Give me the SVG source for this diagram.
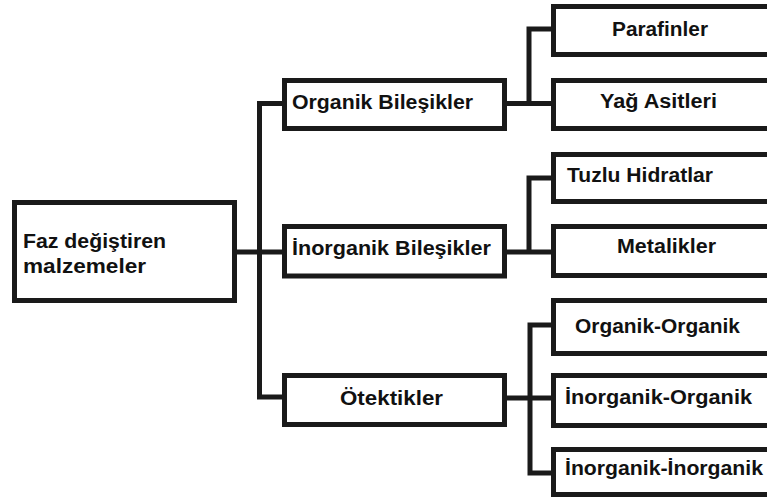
<svg xmlns="http://www.w3.org/2000/svg" width="767" height="497" viewBox="0 0 767 497">
<style>
.box{fill:#fff;stroke:#1a1a1a;stroke-width:5}
.con{fill:none;stroke:#1a1a1a;stroke-width:5;stroke-linejoin:miter;stroke-linecap:square}
text{font-family:"Liberation Sans",Arial,sans-serif;font-weight:bold;font-size:19.5px;fill:#111}
</style>
<rect width="767" height="497" fill="#fff"/>
<g id="connectors">
<path class="con" d="M237,252 H282 M259.5,103.5 V397 M259.5,103.5 H282 M259.5,397 H282"/>
<path class="con" d="M507,103.5 H551 M529,103.5 V29 H551"/>
<path class="con" d="M507,252 H551 M529,252 V178 H551"/>
<path class="con" d="M507,398 H551 M530,325 V473 M530,325 H551 M530,473 H551"/>
</g>
<g id="root"><rect class="box" x="14.5" y="202.5" width="220" height="98"/>
<text x="23" y="248" textLength="143" lengthAdjust="spacingAndGlyphs">Faz değiştiren</text>
<text x="23" y="273" textLength="123" lengthAdjust="spacingAndGlyphs">malzemeler</text></g>
<g id="organik"><rect class="box" x="284.5" y="80.5" width="220" height="48"/>
<text x="292" y="109" textLength="181" lengthAdjust="spacingAndGlyphs">Organik Bileşikler</text></g>
<g id="inorganik"><rect class="box" x="284.5" y="226.5" width="220" height="49.5"/>
<text x="292" y="255" textLength="199" lengthAdjust="spacingAndGlyphs">İnorganik Bileşikler</text></g>
<g id="otektikler"><rect class="box" x="284.5" y="375.5" width="220" height="49"/>
<text x="340" y="405" textLength="103" lengthAdjust="spacingAndGlyphs">Ötektikler</text></g>
<g id="parafinler"><rect class="box" x="553.5" y="6.5" width="240" height="48"/>
<text x="612" y="36" textLength="96" lengthAdjust="spacingAndGlyphs">Parafinler</text></g>
<g id="yag"><rect class="box" x="553.5" y="80.5" width="240" height="48"/>
<text x="600" y="108" textLength="117" lengthAdjust="spacingAndGlyphs">Yağ Asitleri</text></g>
<g id="tuzlu"><rect class="box" x="553.5" y="154.5" width="240" height="47"/>
<text x="567" y="182" textLength="146" lengthAdjust="spacingAndGlyphs">Tuzlu Hidratlar</text></g>
<g id="metalikler"><rect class="box" x="553.5" y="226.5" width="240" height="49"/>
<text x="617" y="253" textLength="99" lengthAdjust="spacingAndGlyphs">Metalikler</text></g>
<g id="orgorg"><rect class="box" x="553.5" y="300.5" width="240" height="53"/>
<text x="575" y="333" textLength="165" lengthAdjust="spacingAndGlyphs">Organik-Organik</text></g>
<g id="inorgorg"><rect class="box" x="553.5" y="375.5" width="240" height="50"/>
<text x="565" y="404" textLength="187" lengthAdjust="spacingAndGlyphs">İnorganik-Organik</text></g>
<g id="inorginorg"><rect class="box" x="553.5" y="449.5" width="240" height="45"/>
<text x="565" y="475" textLength="198" lengthAdjust="spacingAndGlyphs">İnorganik-İnorganik</text></g>
</svg>
